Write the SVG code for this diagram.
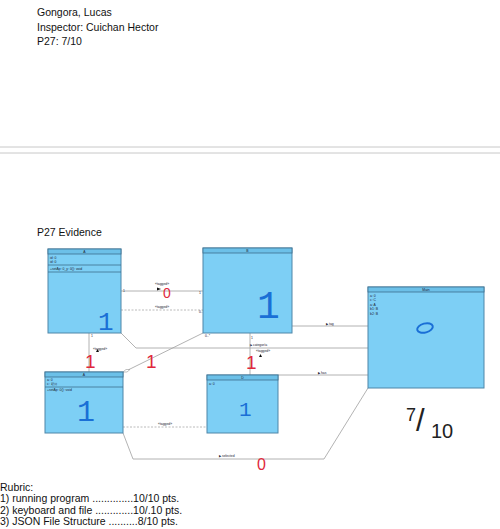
<svg xmlns="http://www.w3.org/2000/svg" width="500" height="529" viewBox="0 0 500 529">
<style>
.t{font-family:"Liberation Sans",Arial,sans-serif;font-size:10.5px;fill:#111}
.box{fill:#7dcff5;stroke:#4f86a8;stroke-width:1}
.hdr{fill:#6cc0e8;stroke:#3d6f8e;stroke-width:0.8}
.sep{stroke:#3d6f8e;stroke-width:0.8}
.tiny{font-family:"Liberation Sans",Arial,sans-serif;font-size:3.4px;fill:#223}
.ln{fill:none;stroke:#a0a0a0;stroke-width:0.8}
.dash{fill:none;stroke:#a8a8a8;stroke-width:0.8;stroke-dasharray:2,1.5}
.hand{font-family:"Liberation Mono","DejaVu Sans Mono",monospace;fill:#1a6fd6}
.red{font-family:"Liberation Sans",Arial,sans-serif;fill:#e0283c}
.blk{font-family:"Liberation Sans",Arial,sans-serif;fill:#222}
</style>
<rect width="500" height="529" fill="#fff"/>
<text class="t" x="37" y="16">Gongora, Lucas</text>
<text class="t" x="37" y="31">Inspector: Cuichan Hector</text>
<text class="t" x="37" y="45">P27: 7/10</text>
<line x1="0" y1="147" x2="500" y2="147" stroke="#c8c8c8" stroke-width="1"/>
<line x1="0" y1="153" x2="500" y2="153" stroke="#c8c8c8" stroke-width="1"/>
<text class="t" x="37" y="236">P27 Evidence</text>

<g id="connectors">
<line class="ln" x1="121" y1="291" x2="203" y2="291"/>
<text class="tiny" x="155" y="285">«tagged»</text>
<path d="M157 287.5 L161 289 L157 290.5Z" fill="#111"/>
<line class="dash" x1="121" y1="310" x2="203" y2="310"/>
<text class="tiny" x="155" y="308">«tagged»</text>
<line class="ln" x1="89" y1="333" x2="89" y2="372"/>
<text class="tiny" x="93" y="350">«tagged»</text>
<path d="M96 352 L97.5 349 L99 352Z" fill="#111"/>
<polyline class="ln" points="121,333 136,348 368,348"/>
<text class="tiny" x="250" y="346">▶ categoría</text>
<line class="ln" x1="203" y1="333" x2="128" y2="370"/>
<path d="M123 372 L126 369.5 L130 369.5 L127 372Z" fill="#fff" stroke="#999" stroke-width="0.6"/>
<line class="ln" x1="250" y1="333" x2="250" y2="375"/>
<text class="tiny" x="256" y="352">«tagged»</text>
<path d="M259 357 L260.5 354 L262 357Z" fill="#111"/>
<line class="ln" x1="292" y1="326" x2="368" y2="326"/>
<text class="tiny" x="326" y="325">▶ tag</text>
<line class="ln" x1="278" y1="375" x2="368" y2="375"/>
<text class="tiny" x="318" y="374">▶ has</text>
<line class="dash" x1="123" y1="427" x2="207" y2="427"/>
<text class="tiny" x="158" y="425">«tagged»</text>
<polyline class="ln" points="123,433 133,459 324,459 368,388"/>
<text class="tiny" x="219" y="457">▶ selected</text>
<text class="tiny" x="123" y="292">1</text>
<text class="tiny" x="199" y="294">1</text>
<text class="tiny" x="199" y="313">0..*</text>
<text class="tiny" x="91" y="337">1</text>
<text class="tiny" x="205" y="337">0..*</text>
<text class="tiny" x="251" y="339">1</text>
</g>

<g id="nodeA">
<rect class="box" x="48" y="249" width="73" height="84"/>
<rect class="hdr" x="48" y="249" width="73" height="5"/>
<text class="tiny" x="84.5" y="253" text-anchor="middle">A</text>
<text class="tiny" x="50" y="259">id: 0</text>
<text class="tiny" x="50" y="263">id: 0</text>
<line class="sep" x1="48" y1="265" x2="121" y2="265"/>
<text class="tiny" x="50" y="270">+setAp: 0_y: 0(): void</text>
<line class="sep" x1="48" y1="272" x2="121" y2="272"/>
<text class="hand" x="98" y="330" font-size="26">1</text>
</g>

<g id="nodeB">
<rect class="box" x="203" y="248" width="89" height="85"/>
<rect class="hdr" x="203" y="248" width="89" height="5"/>
<text class="tiny" x="247.5" y="252" text-anchor="middle">B</text>
<text class="hand" x="257" y="318" font-size="38">1</text>
</g>

<g id="nodeMain">
<rect class="box" x="368" y="287" width="116" height="101"/>
<rect class="hdr" x="368" y="287" width="116" height="5"/>
<text class="tiny" x="426" y="291" text-anchor="middle">Main</text>
<text class="tiny" x="370" y="297">a: 0</text>
<text class="tiny" x="370" y="301">c: C</text>
<text class="tiny" x="370" y="305.5">a: A</text>
<text class="tiny" x="370" y="310">b1: B</text>
<text class="tiny" x="370" y="314.5">b2: B</text>
<ellipse cx="425" cy="328" rx="8" ry="4.5" fill="none" stroke="#1a6fd6" stroke-width="2" transform="rotate(-15 425 328)"/>
</g>

<g id="nodeC">
<rect class="box" x="45" y="372" width="78" height="61"/>
<rect class="hdr" x="45" y="372" width="78" height="5"/>
<text class="tiny" x="84" y="376" text-anchor="middle">A</text>
<text class="tiny" x="47" y="381">a: 0</text>
<text class="tiny" x="47" y="385">c: 類別</text>
<line class="sep" x1="45" y1="387" x2="123" y2="387"/>
<text class="tiny" x="47" y="391">+setAp: 0(): void</text>
<text class="hand" x="77" y="421" font-size="30">1</text>
</g>

<g id="nodeD">
<rect class="box" x="207" y="375" width="71" height="58"/>
<rect class="hdr" x="207" y="375" width="71" height="5"/>
<text class="tiny" x="242.5" y="379" text-anchor="middle">D</text>
<text class="tiny" x="209" y="385">a: 0</text>
<text class="hand" x="239" y="416" font-size="21">1</text>
</g>

<g id="marks">
<text class="red" x="163" y="298" font-size="14">0</text>
<text class="red" x="85" y="368" font-size="19">1</text>
<text class="red" x="146" y="368" font-size="19">1</text>
<text class="red" x="246" y="369" font-size="19">1</text>
<text class="red" x="257" y="470" font-size="16">0</text>
<text class="blk" x="406" y="421" font-size="18">7</text>
<text class="blk" x="416" y="431" font-size="31">/</text>
<text class="blk" x="431" y="438" font-size="20">10</text>
</g>

<text class="t" x="0" y="491">Rubric:</text>
<text class="t" x="0" y="502">1) running program ..............10/10 pts.</text>
<text class="t" x="0" y="514">2) keyboard and file .............10/.10 pts.</text>
<text class="t" x="0" y="525">3) JSON File Structure ..........8/10 pts.</text>
</svg>
